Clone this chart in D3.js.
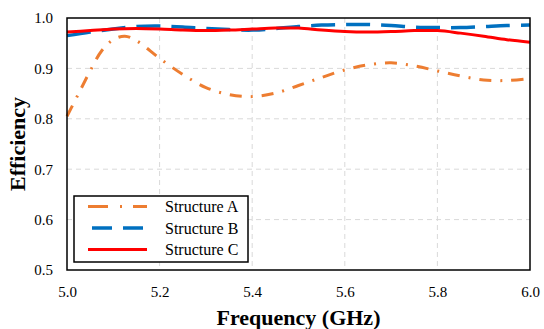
<!DOCTYPE html>
<html>
<head>
<meta charset="utf-8">
<script src="https://cdn.jsdelivr.net/npm/d3@7"></script>
<style>
  body { margin: 0; background: #fff; }
  svg { display: block; }
  svg text { font-family: "Liberation Serif", "Times New Roman", serif; }
</style>
</head>
<body>
<div id="chart"></div>
<script>
// frequency (GHz) and efficiency
const freqA = [5.0, 5.025, 5.05, 5.075, 5.1, 5.125, 5.15, 5.2, 5.25, 5.3, 5.35, 5.4, 5.45, 5.5, 5.55, 5.6, 5.65, 5.7, 5.75, 5.8, 5.85, 5.9, 5.95, 6.0];
const effA = [0.805, 0.85, 0.895, 0.935, 0.957, 0.964, 0.955, 0.92, 0.888, 0.862, 0.848, 0.844, 0.851, 0.866, 0.882, 0.897, 0.907, 0.911, 0.905, 0.895, 0.885, 0.877, 0.876, 0.880];

const freqBC = [5.0, 5.05, 5.1, 5.15, 5.2, 5.25, 5.3, 5.35, 5.4, 5.45, 5.5, 5.55, 5.6, 5.65, 5.7, 5.75, 5.8, 5.85, 5.9, 5.95, 6.0];
const effB = [0.965, 0.972, 0.978, 0.983, 0.984, 0.982, 0.979, 0.977, 0.976, 0.979, 0.983, 0.986, 0.987, 0.987, 0.985, 0.982, 0.981, 0.981, 0.983, 0.985, 0.986];
const effC = [0.972, 0.975, 0.978, 0.979, 0.978, 0.976, 0.975, 0.976, 0.978, 0.980, 0.980, 0.976, 0.973, 0.972, 0.973, 0.975, 0.975, 0.970, 0.964, 0.957, 0.952];

const xTicks = [5.0, 5.2, 5.4, 5.6, 5.8, 6.0];
const yTicks = [0.5, 0.6, 0.7, 0.8, 0.9, 1.0];
const seriesNames = ["Structure A", "Structure B", "Structure C"];

const W = 544, H = 329;
const margin = { top: 18, right: 14, bottom: 59, left: 67 };
const width = W - margin.left - margin.right;
const height = H - margin.top - margin.bottom;
const serif = '"Liberation Serif", "Times New Roman", serif';

const svg = d3.select('#chart').append('svg')
  .attr('width', W)
  .attr('height', H);

const g = svg.append('g')
  .attr('transform', `translate(${margin.left}, ${margin.top})`);

const x = d3.scaleLinear().domain([5.0, 6.0]).range([0, width]);
const y = d3.scaleLinear().domain([0.5, 1.0]).range([height, 0]);

// grid
g.append('g').selectAll('line')
  .data(xTicks.slice(1, -1))
  .enter().append('line')
  .attr('x1', (d) => x(d)).attr('x2', (d) => x(d))
  .attr('y1', 0).attr('y2', height)
  .attr('stroke', '#d9d9d9')
  .attr('stroke-width', 1)
  .attr('stroke-dasharray', '5,4');

g.append('g').selectAll('line')
  .data(yTicks.slice(1, -1))
  .enter().append('line')
  .attr('x1', 0).attr('x2', width)
  .attr('y1', (d) => y(d)).attr('y2', (d) => y(d))
  .attr('stroke', '#d9d9d9')
  .attr('stroke-width', 1)
  .attr('stroke-dasharray', '5,4');

// axes (labels only)
const xAxis = g.append('g')
  .attr('transform', `translate(0, ${height})`)
  .call(d3.axisBottom(x).tickValues(xTicks).tickFormat(d3.format('.1f')).tickSize(0).tickPadding(16));
const yAxis = g.append('g')
  .call(d3.axisLeft(y).tickValues(yTicks).tickFormat(d3.format('.1f')).tickSize(0).tickPadding(14));

[xAxis, yAxis].forEach((a) => {
  a.select('.domain').remove();
  a.attr('font-family', serif).attr('font-size', 15);
  a.selectAll('text').attr('fill', '#000');
});

// lines
const lineA = d3.line()
  .x((d, i) => x(freqA[i]))
  .y((d) => y(d))
  .curve(d3.curveCatmullRom);

const lineBC = d3.line()
  .x((d, i) => x(freqBC[i]))
  .y((d) => y(d))
  .curve(d3.curveCatmullRom);

g.append('path')
  .datum(effA)
  .attr('fill', 'none')
  .attr('stroke', '#ED7D31')
  .attr('stroke-width', 3)
  .attr('stroke-dasharray', '12,9,2,9')
  .attr('d', lineA);

g.append('path')
  .datum(effB)
  .attr('fill', 'none')
  .attr('stroke', '#0070C0')
  .attr('stroke-width', 3.5)
  .attr('stroke-dasharray', '24,11')
  .attr('d', lineBC);

g.append('path')
  .datum(effC)
  .attr('fill', 'none')
  .attr('stroke', '#FF0000')
  .attr('stroke-width', 3)
  .attr('d', lineBC);

// frame
g.append('rect')
  .attr('x', 0).attr('y', 0)
  .attr('width', width).attr('height', height)
  .attr('fill', 'none')
  .attr('stroke', '#000')
  .attr('stroke-width', 1.5);

// legend
const legend = g.append('g')
  .attr('transform', `translate(${74 - margin.left}, ${196 - margin.top})`);

legend.append('rect')
  .attr('width', 174).attr('height', 66)
  .attr('fill', '#fff')
  .attr('stroke', '#000')
  .attr('stroke-width', 1.5);

const legendStyles = [
  { color: '#ED7D31', dash: '20,12,2,11', w: 3, x1: 14 },
  { color: '#0070C0', dash: '20,11', w: 3.5, x1: 18 },
  { color: '#FF0000', dash: null, w: 3, x1: 14 }
];

const rows = legend.selectAll('g.row')
  .data(seriesNames)
  .enter().append('g')
  .attr('class', 'row')
  .attr('transform', (d, i) => `translate(0, ${10.5 + i * 21.5})`);

rows.append('line')
  .attr('x1', (d, i) => legendStyles[i].x1).attr('x2', 73)
  .attr('y1', 0).attr('y2', 0)
  .attr('stroke', (d, i) => legendStyles[i].color)
  .attr('stroke-width', (d, i) => legendStyles[i].w)
  .attr('stroke-dasharray', (d, i) => legendStyles[i].dash);

rows.append('text')
  .attr('x', 91)
  .attr('y', 5.5)
  .attr('font-size', 16)
  .attr('fill', '#000')
  .text((d) => d);

// axis titles
svg.append('text')
  .attr('x', margin.left + width / 2)
  .attr('y', 325)
  .attr('text-anchor', 'middle')
  .attr('font-size', 22)
  .attr('font-weight', 'bold')
  .text('Frequency (GHz)');

svg.append('text')
  .attr('transform', `translate(25, ${margin.top + height / 2}) rotate(-90)`)
  .attr('text-anchor', 'middle')
  .attr('font-size', 22)
  .attr('font-weight', 'bold')
  .text('Efficiency');
</script>
</body>
</html>
